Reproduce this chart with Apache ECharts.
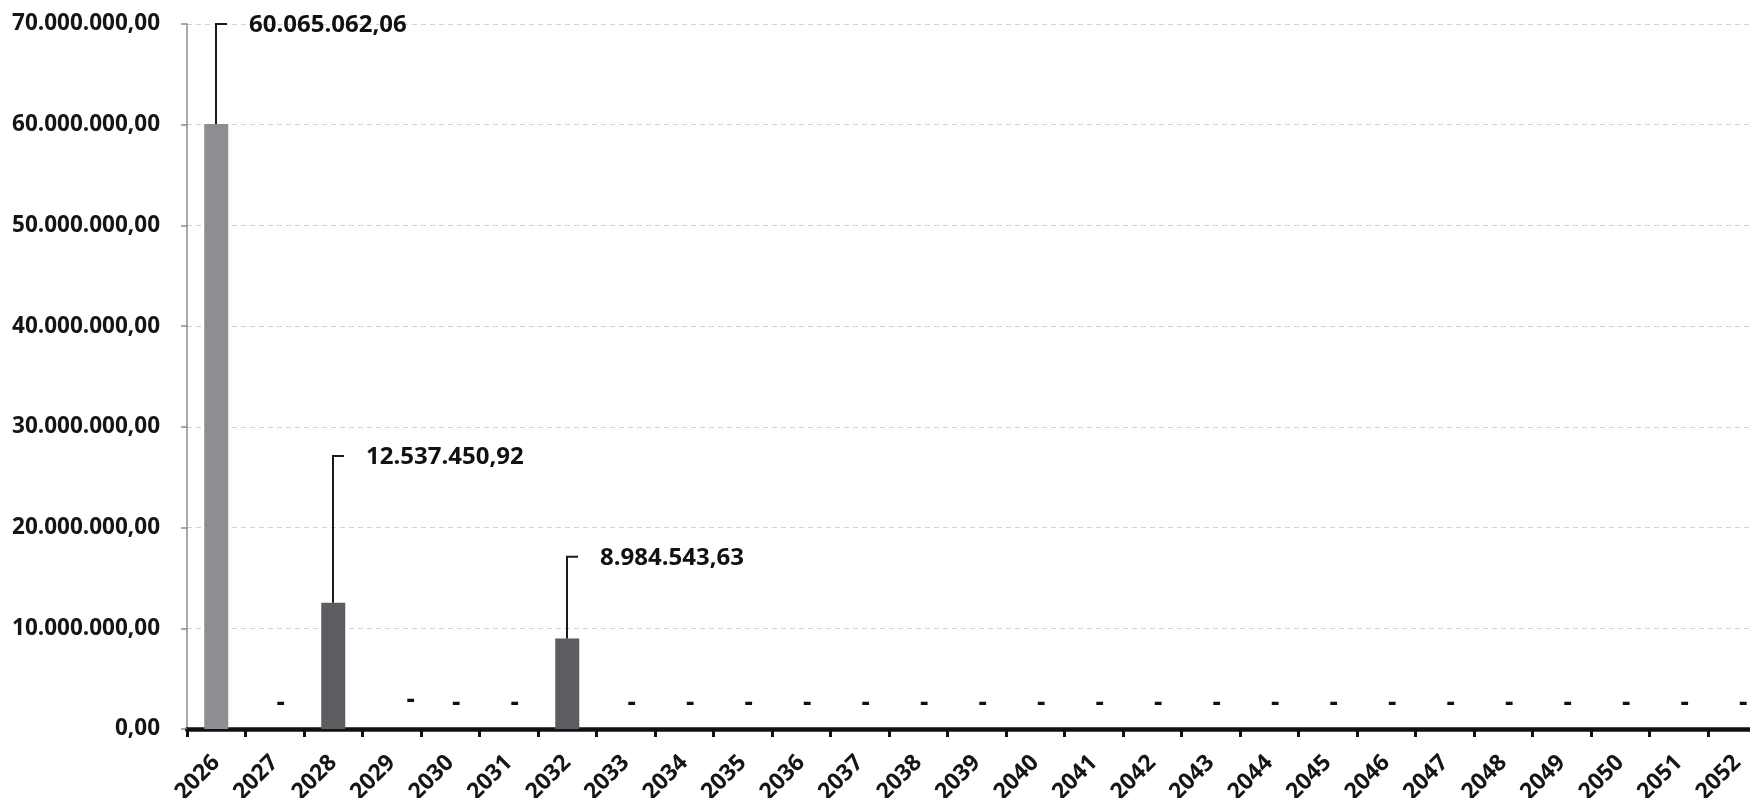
<!DOCTYPE html>
<html>
<head>
<meta charset="utf-8">
<script src="https://cdn.jsdelivr.net/npm/echarts@6/dist/echarts.min.js"></script>
<style>
html,body{margin:0;padding:0;background:#ffffff;}
#chart{width:1750px;height:798px;}
</style>
</head>
<body>
<div id="chart"></div>
<script>
// ---- data ----
const categories = ['2026','2027','2028','2029','2030','2031','2032','2033','2034','2035','2036','2037','2038','2039','2040','2041','2042','2043','2044','2045','2046','2047','2048','2049','2050','2051','2052'];
const values = [60065062.06, 0, 12537450.92, 0, 0, 0, 8984543.63, 0, 0, 0, 0, 0, 0, 0, 0, 0, 0, 0, 0, 0, 0, 0, 0, 0, 0, 0, 0];
const yMin = 0;
const yMax = 70000000;
const yStep = 10000000;

// ---- layout (label leader heights, in axis units) ----
const leaderLevels = {0: 70000000, 2: 27100000, 6: 17100000};

function fmtBR(v) {
  const s = Math.abs(v).toFixed(2);
  const parts = s.split('.');
  return parts[0].replace(/\B(?=(\d{3})+(?!\d))/g, '.') + ',' + parts[1];
}

const FONT = '"Open Sans", "Liberation Sans", sans-serif';
const chart = echarts.init(document.getElementById('chart'));

const barData = values.map((v, i) => {
  if (i === 3) return {value: v, label: {offset: [19, -3]}};
  return v;
});
const leaderData = values.map((v, i) => [i, v, leaderLevels[i]]).filter(d => d[1] > 0);

chart.setOption({
  backgroundColor: '#ffffff',
  animation: false,
  grid: {left: 187, top: 24, width: 1579.5, height: 705, containLabel: false, outerBoundsMode: 'none'},
  xAxis: {
    type: 'category',
    data: categories,
    axisLine: {show: true, lineStyle: {color: '#111', width: 4.5}},
    axisTick: {show: true, length: 8, lineStyle: {color: '#111', width: 3}},
    axisLabel: {rotate: 45, margin: 30, fontSize: 23, fontWeight: 'bold', fontFamily: FONT, color: '#151515'},
    splitLine: {show: false}
  },
  yAxis: {
    type: 'value',
    min: yMin, max: yMax, interval: yStep,
    axisLine: {show: true, lineStyle: {color: '#8c8c8c', width: 1.5}},
    axisTick: {show: true, length: 6, lineStyle: {color: '#8c8c8c', width: 1.5}},
    axisLabel: {margin: 27, fontSize: 22.5, fontWeight: 'bold', fontFamily: FONT, color: '#151515', formatter: v => fmtBR(v)},
    splitLine: {show: true, lineStyle: {color: '#d2d2d2', width: 1, type: [5, 4]}}
  },
  series: [
    {
      type: 'bar',
      data: barData,
      barWidth: 24,
      itemStyle: {
        color: p => p.dataIndex === 0 ? '#8d8d92' : '#5c5c61'
      },
      label: {
        show: true,
        position: 'top',
        distance: 12,
        offset: [6, 0],
        fontSize: 26, fontWeight: 'bold', fontFamily: FONT, color: '#111',
        formatter: p => (p.value === 0 ? '-' : '')
      },
      z: 2
    },
    {
      type: 'custom',
      data: leaderData,
      encode: {x: 0, y: 1},
      clip: false,
      z: 5,
      renderItem: function (params, api) {
        const idx = api.value(0);
        const v = api.value(1);
        const lvl = api.value(2);
        const base = api.coord([idx, v]);
        const top = api.coord([idx, lvl]);
        const x = Math.round(base[0]);
        return {
          type: 'group',
          children: [
            {
              type: 'polyline',
              shape: {points: [[x, base[1]], [x, top[1]], [x + 11, top[1]]]},
              style: {stroke: '#1a1a1a', lineWidth: 2, fill: null}
            },
            {
              type: 'text',
              x: x + 33,
              y: top[1] + 1,
              style: {
                text: fmtBR(v),
                fontSize: 24, fontWeight: 'bold', fontFamily: FONT,
                fill: '#111', align: 'left', verticalAlign: 'middle'
              }
            }
          ]
        };
      }
    }
  ]
});
</script>
</body>
</html>
